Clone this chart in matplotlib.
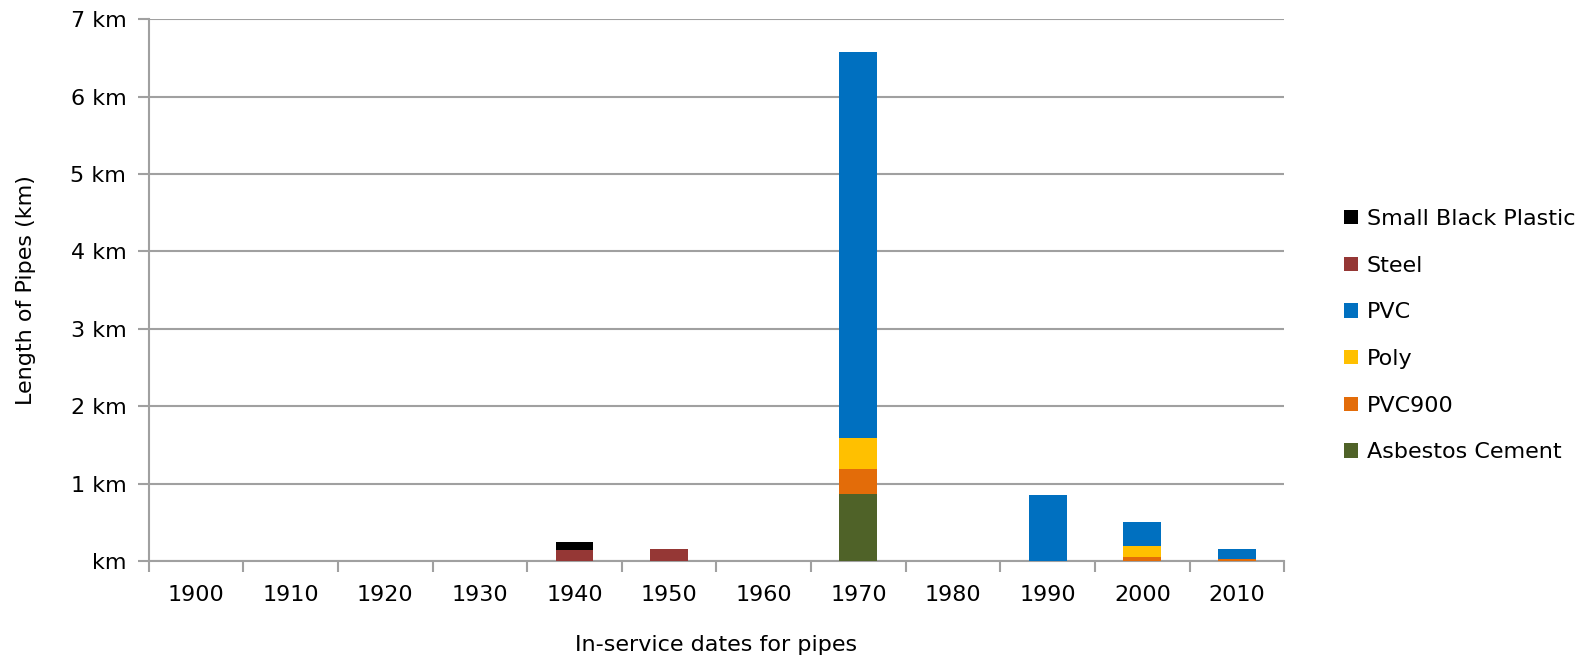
import numpy as np
import matplotlib.pyplot as plt
from matplotlib.ticker import FixedLocator, FuncFormatter
from matplotlib.patches import Patch

plt.rcParams["font.family"] = ["DejaVu Sans"]

# -----------------------------
# DATA (km of pipe per decade)
# -----------------------------
decades = ["1900", "1910", "1920", "1930", "1940", "1950",
           "1960", "1970", "1980", "1990", "2000", "2010"]

asbestos_cement = [0, 0, 0, 0, 0, 0, 0, 0.87, 0, 0, 0, 0]
pvc900 = [0, 0, 0, 0, 0, 0, 0, 0.32, 0, 0, 0.05, 0.03]
poly = [0, 0, 0, 0, 0, 0, 0, 0.40, 0, 0, 0.15, 0]
pvc = [0, 0, 0, 0, 0, 0, 0, 4.99, 0, 0.86, 0.30, 0.125]
steel = [0, 0, 0, 0, 0.14, 0.16, 0, 0, 0, 0, 0, 0]
small_black_plastic = [0, 0, 0, 0, 0.105, 0, 0, 0, 0, 0, 0, 0]

# bottom-up stacking order
series = [
    ("Asbestos Cement", asbestos_cement, "#4F6228"),
    ("PVC900", pvc900, "#E36C09"),
    ("Poly", poly, "#FFC000"),
    ("PVC", pvc, "#0070C0"),
    ("Steel", steel, "#953735"),
    ("Small Black Plastic", small_black_plastic, "#000000"),
]

GRID = "#A0A0A0"
FS = 16

fig = plt.figure(figsize=(15.84, 6.61), dpi=100)
ax = fig.add_axes([0.0938, 0.151, 0.717, 0.820])

x = np.arange(len(decades))
bottom = np.zeros(len(decades))
for name, vals, color in series:
    vals = np.array(vals, dtype=float)
    ax.bar(x, vals, width=0.4, bottom=bottom, color=color, label=name,
           zorder=3, linewidth=0)
    bottom += vals

ax.set_xlim(-0.5, len(decades) - 0.5)
ax.set_ylim(0, 7)

# y axis
ax.set_yticks(range(0, 8))
ax.yaxis.set_major_formatter(
    FuncFormatter(lambda v, _: "km" if v == 0 else f"{int(v)} km"))
ax.yaxis.grid(True, color=GRID, linewidth=1.5, zorder=0)
ax.tick_params(axis="y", length=8, width=1.5, color=GRID, labelsize=FS,
               pad=8)

# x axis: labels centred, tick marks on category boundaries
ax.set_xticks(x)
ax.set_xticklabels(decades)
ax.xaxis.set_minor_locator(FixedLocator(np.arange(-0.5, len(decades), 1.0)))
ax.tick_params(axis="x", which="major", length=0, labelsize=FS, pad=17)
ax.tick_params(axis="x", which="minor", length=8, width=1.5, color=GRID)

for side in ["top", "right"]:
    ax.spines[side].set_visible(False)
for side in ["left", "bottom"]:
    ax.spines[side].set_color(GRID)
    ax.spines[side].set_linewidth(1.5)

ax.set_xlabel("In-service dates for pipes", fontsize=FS, labelpad=22)
ax.set_ylabel("Length of Pipes (km)", fontsize=FS, labelpad=25)

# legend, top entry first
handles = [Patch(facecolor=c, edgecolor="none", label=n)
           for n, _, c in reversed(series)]
ax.legend(handles=handles, loc="center left", bbox_to_anchor=(1.045, 0.416),
          frameon=False, fontsize=FS, handlelength=0.6, handleheight=0.6,
          handletextpad=0.4, labelspacing=1.2, borderaxespad=0)

fig.savefig("out.png", dpi=100)
